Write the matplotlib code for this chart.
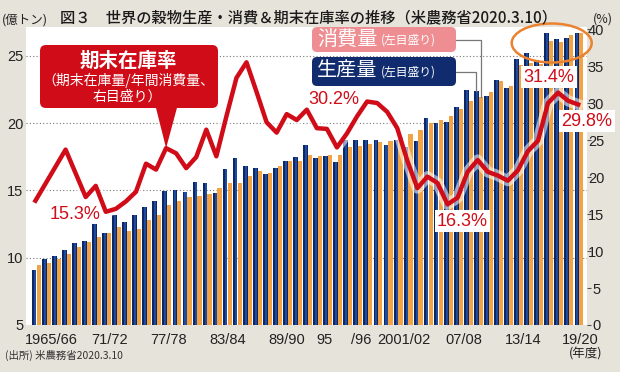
import matplotlib
matplotlib.use("Agg")
import matplotlib.pyplot as plt
import matplotlib.patches as mpatches
import matplotlib.patheffects as pe
from matplotlib.lines import Line2D
from matplotlib.transforms import Affine2D
import numpy as np

# crop years 1965/66 .. 2019/20
years = list(range(1965, 2020))

# world grain production / consumption (億トン, left axis)
production = [9.07, 9.90, 10.16, 10.55, 11.10, 11.27, 12.48, 11.81, 13.20, 12.66,
              13.20, 13.76, 14.19, 14.95, 15.00, 14.87, 15.60, 15.57, 14.83, 16.60,
              17.42, 16.85, 16.65, 16.19, 16.65, 17.17, 17.52, 18.39, 17.44, 17.59,
              17.15, 18.75, 18.78, 18.78, 18.75, 18.40, 18.78, 18.20, 18.65, 20.38,
              20.05, 20.08, 21.20, 22.45, 22.40, 22.04, 23.20, 22.60, 24.80, 25.20,
              24.70, 26.67, 26.24, 26.36, 26.73]
consumption = [9.44, 9.60, 9.90, 10.26, 10.78, 11.15, 11.57, 11.81, 12.28, 11.96,
               12.16, 12.83, 13.20, 13.94, 14.19, 14.50, 14.58, 14.76, 15.17, 15.57,
               15.57, 16.11, 16.48, 16.28, 16.85, 17.22, 17.22, 17.61, 17.54, 17.67,
               17.61, 18.26, 18.33, 18.46, 18.58, 18.65, 19.00, 19.20, 19.50, 20.00,
               20.26, 20.50, 21.04, 21.62, 21.96, 22.35, 23.10, 22.80, 24.30, 24.50,
               24.40, 26.10, 26.06, 26.54, 26.70]
# ending stocks / annual consumption (%, right axis)
stock_ratio = [16.8, 19.1, 21.4, 23.7, 20.5, 17.3, 18.8, 15.3, 15.7, 16.7,
               18.0, 21.8, 21.0, 23.9, 23.2, 21.2, 22.7, 26.4, 22.8, 28.2,
               33.4, 35.5, 31.5, 27.4, 26.0, 28.5, 27.7, 29.1, 26.6, 26.5,
               24.0, 25.9, 28.2, 30.2, 30.0, 28.8, 26.6, 22.2, 18.5, 20.05,
               19.2, 16.3, 17.2, 20.7, 22.3, 20.7, 20.2, 19.5, 20.9, 23.5,
               24.9, 30.0, 31.4, 30.3, 29.8]

xtick_labels = ["1965/66", "71/72", "77/78", "83/84", "89/90", "95", "/96",
                "2001/02", "07/08", "13/14", "19/20"]
xtick_pos = [1.5, 7.3, 13.1, 19.0, 24.9, 28.7, 32.3, 36.6, 42.5, 48.4, 54.1]

NAVY = "#0d2766"
NAVY_LIGHT = "#1f4b9e"
ORANGE = "#f2a445"
RED = "#d00c18"
BG = "#e6e3db"
CJK = ["Noto Sans CJK JP", "DejaVu Sans"]

plt.rcParams["font.family"] = ["Liberation Sans", "Noto Sans CJK JP", "DejaVu Sans"]

W, H = 620, 372
fig = plt.figure(figsize=(6.2, 3.72), dpi=100, facecolor=BG)
# pixel coords of the reference picture (y down)
PX = Affine2D().scale(1, -1).translate(0, H).scale(1 / W, 1 / H) + fig.transFigure

ax = fig.add_axes([26 / W, 1 - 325 / H, (587 - 26) / W, (325 - 27) / H])
ax.set_facecolor("white")
idx = np.arange(len(years))

ax.bar(idx - 0.23, production, width=0.46, color=NAVY, zorder=2)
ax.bar(idx - 0.17, production, width=0.2, color=NAVY_LIGHT, zorder=2)
ax.bar(idx + 0.22, consumption, width=0.42, color=ORANGE, zorder=2)

ax.set_xlim(-1.04, 54.78)
ax.set_ylim(5, 27.15)
ax.set_yticks([5, 10, 15, 20, 25])
ax.yaxis.grid(True, linestyle=(0, (1, 2)), color="#777777", lw=0.8)
ax.set_axisbelow(True)
ax.set_xticks(xtick_pos, xtick_labels)
ax.tick_params(axis="x", length=0, pad=5.5, labelsize=10.5, labelcolor="#222222")
ax.tick_params(axis="y", length=0, pad=2, labelsize=10.5, labelcolor="#222222")
for s in ax.spines.values():
    s.set_visible(False)

ax2 = ax.twinx()
ax2.set_ylim(0, (27.15 - 5) / 0.55)
ax2.set_yticks(range(0, 41, 5))
ax2.tick_params(axis="y", length=3, width=0.8, color="#555555", pad=3.5,
                labelsize=10.5, labelcolor="#222222")
plt.setp(ax2.get_yticklabels(), ha="center")
for s in ax2.spines.values():
    s.set_visible(False)
ax2.plot(idx - 0.1, stock_ratio, color=RED, lw=3.2, zorder=5,
         path_effects=[pe.Stroke(linewidth=8, foreground="white", alpha=0.55), pe.Normal()])

def data_px(a, x, y):
    return PX.inverted().transform(a.transData.transform((x, y)))

# headings
fig.text(309, 18, "図３　世界の穀物生産・消費＆期末在庫率の推移（米農務省2020.3.10）",
         transform=PX, ha="center", va="center", fontsize=11, family=CJK,
         weight="medium", color="#1a1a1a")
fig.text(25, 20, "(億トン)", transform=PX, ha="center", va="center", fontsize=9,
         family=CJK, color="#222222")
fig.text(603, 19, "(%)", transform=PX, ha="center", va="center", fontsize=9,
         family=CJK, color="#222222")
fig.text(586, 354, "(年度)", transform=PX, ha="center", va="center", fontsize=9,
         family=CJK, color="#222222")
fig.text(5, 355, "(出所) 米農務省2020.3.10", transform=PX, ha="left", va="center",
         fontsize=7.5, family=CJK, color="#333333")

# red callout
tip = data_px(ax2, 13 - 0.1, stock_ratio[13])
fig.add_artist(mpatches.FancyBboxPatch((40, 45), 178, 63, transform=PX,
               boxstyle="round,pad=0,rounding_size=6", fc=RED, ec="none"))
fig.add_artist(mpatches.Polygon([(155, 104), (178, 104), tuple(tip)], closed=True,
               transform=PX, fc=RED, ec="none"))
fig.text(128, 61, "期末在庫率", transform=PX, ha="center", va="center", fontsize=14,
         family=CJK, color="white", weight="bold")
fig.text(128, 80.5, "（期末在庫量/年間消費量、", transform=PX, ha="center", va="center",
         fontsize=10, family=CJK, color="white")
fig.text(127, 96.5, "右目盛り）", transform=PX, ha="center", va="center",
         fontsize=10, family=CJK, color="white")

# legend boxes with leaders
end_c = data_px(ax, 44 + 0.22, consumption[44])
end_p = data_px(ax, 44 - 0.23, production[44])
fig.add_artist(Line2D([456, end_c[0], end_c[0]], [40, 40, end_c[1]], transform=PX,
               color="#777777", lw=0.9))
fig.add_artist(Line2D([456, end_p[0], end_p[0]], [72, 72, end_p[1]], transform=PX,
               color="#777777", lw=0.9))
fig.add_artist(mpatches.FancyBboxPatch((312, 27), 144, 25, transform=PX,
               boxstyle="round,pad=0,rounding_size=5", fc="#ef8e92", ec="none"))
fig.add_artist(mpatches.FancyBboxPatch((312, 57), 144, 29, transform=PX,
               boxstyle="round,pad=0,rounding_size=5", fc="#102c6e", ec="none"))
fig.text(317, 39.5, "消費量", transform=PX, ha="left", va="center", fontsize=14.5,
         family=CJK, color="white")
fig.text(381, 40.5, "(左目盛り)", transform=PX, ha="left", va="center", fontsize=8.5,
         family=CJK, color="white")
fig.text(317, 71, "生産量", transform=PX, ha="left", va="center", fontsize=14.5,
         family=CJK, color="white")
fig.text(381, 72, "(左目盛り)", transform=PX, ha="left", va="center", fontsize=8.5,
         family=CJK, color="white")

fig.add_artist(mpatches.Ellipse((551.7, 43), 80, 39, transform=PX, fill=False,
               ec="#ea8230", lw=1.8))

# value labels
lab = dict(transform=PX, ha="center", va="center", fontsize=13, color=RED)
fig.text(75, 214.5, "15.3%", **lab)
fig.text(334, 99, "30.2%", **lab)
wb = dict(facecolor="white", edgecolor="none", pad=1.5)
fig.text(462.5, 221, "16.3%", bbox=wb, **lab)
fig.text(549, 77, "31.4%", bbox=wb, **lab)
fig.text(587, 121, "29.8%", bbox=wb, **lab)

fig.savefig("out.png", dpi=100, facecolor=BG)
